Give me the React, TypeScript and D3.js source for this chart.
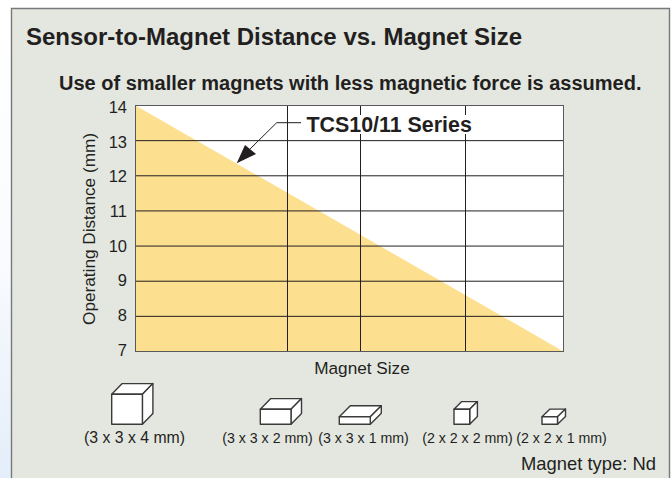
import * as d3 from 'd3'

const yTicks = [7, 8, 9, 10, 11, 12, 13, 14]
// magnet size axis has no numbers, grid lines sit between the magnets
const sizeDomain = [0, 428]
const gridSizes = [152, 225, 330]
const seriesSizes = [0, 428]
const seriesDistance = [14, 7]
const magnetLabels = ['(3 x 3 x 4 mm)', '(3 x 3 x 2 mm)', '(3 x 3 x 1 mm)', '(2 x 2 x 2 mm)', '(2 x 2 x 1 mm)']
const magnetCentres = [134.5, 267.5, 363.5, 467.5, 561.5]
const magnetFontSizes = [15.8, 14.2, 14.2, 14.2, 14.2]
// front width, front height, depth in x, depth in y
const magnetShapes = [
  [30.7, 30, 10.5, 10.7],
  [30.7, 15, 10.5, 10.7],
  [31, 7.5, 11, 11],
  [15.7, 15, 7.7, 7.7],
  [15.5, 7.5, 8, 7.7],
]
const magnetFrontX = [111.7, 260.3, 339.3, 454, 542]
const magnetBottom = 424.3

const plotLeft = 135.5
const plotRight = 563.5
const plotTop = 105.5
const plotBottom = 351.5

export default function App() {
  const x = d3.scaleLinear().domain(sizeDomain).range([plotLeft, plotRight])
  const y = d3.scaleLinear().domain([7, 14]).range([plotBottom, plotTop])
  // tick labels run on a slightly tighter spacing than the grid
  const labelY = d3.scaleLinear().domain([7, 14]).range([355.7, 113])

  const area = d3.area<number>()
    .x(d => x(d))
    .y0(plotBottom)
    .y1((_, i) => y(seriesDistance[i]))

  const font = '"Liberation Sans", Arial, Helvetica, sans-serif'
  const ink = '#231f20'

  return (
    <svg width={672} height={478} viewBox="0 0 672 478"
      style={{ position: 'absolute', left: 0, top: 0, display: 'block' }} fontFamily={font}>
      <defs>
        <linearGradient id="page" x1="0" x2="0" y1="0" y2="1">
          <stop offset="0" stopColor="#ffffff" />
          <stop offset="0.5" stopColor="#fbfcff" />
          <stop offset="1" stopColor="#e4eef9" />
        </linearGradient>
      </defs>
      <rect width={672} height={478} fill="#ffffff" />
      <rect x={0} y={0} width={11} height={478} fill="url(#page)" />
      <rect x={11} y={8} width={658.5} height={470} fill="#e3e7e0" />
      <path d="M11.5 478V8.5H669.5V478" fill="none" stroke="#77787a" strokeWidth={1.4} />

      <text x={26} y={45} fontSize={24} fontWeight={700} fill={ink}>Sensor-to-Magnet Distance vs. Magnet Size</text>
      <text x={59} y={90} fontSize={20} fontWeight={700} fill={ink}>Use of smaller magnets with less magnetic force is assumed.</text>

      <rect x={plotLeft} y={plotTop} width={plotRight - plotLeft} height={plotBottom - plotTop} fill="#fff" />
      <path d={area(seriesSizes) ?? ''} fill="#fddf90" />
      {yTicks.slice(1, -1).map(t => (
        <line key={t} x1={plotLeft} x2={plotRight} y1={y(t)} y2={y(t)} stroke={ink} strokeWidth={1} />
      ))}
      {gridSizes.map(s => (
        <line key={s} x1={x(s)} x2={x(s)} y1={plotTop} y2={plotBottom} stroke={ink} strokeWidth={1} />
      ))}
      <rect x={plotLeft} y={plotTop} width={plotRight - plotLeft} height={plotBottom - plotTop} fill="none" stroke="#58595b" strokeWidth={1} />

      {yTicks.map(t => (
        <text key={t} x={127} y={labelY(t)} textAnchor="end" fontSize={16.5} fill={ink}>{t}</text>
      ))}
      <text transform="translate(95 229) rotate(-90)" textAnchor="middle" fontSize={17.2} fill={ink}>Operating Distance (mm)</text>
      <text x={362} y={374} textAnchor="middle" fontSize={17.2} fill={ink}>Magnet Size</text>

      <path d="M301 122.7H276.7L249 150" fill="none" stroke={ink} strokeWidth={1} />
      <path d="M236.7 163.3L245 145L256 154Z" fill={ink} />
      {/* white patch breaks the grid lines behind the series label */}
      <rect x={304} y={115} width={170} height={19} fill="#fff" />
      <text x={306.5} y={131.5} fontSize={21.4} fontWeight={700} fill={ink}>TCS10/11 Series</text>

      {magnetShapes.map(([w, h, dx, dy], i) => {
        const x0 = magnetFrontX[i]
        const top = magnetBottom - h
        return (
          <g key={i} fill="#fff" stroke="#3a3a3a" strokeWidth={1.4} strokeLinejoin="round">
            <path d={`M${x0} ${top}l${dx} ${-dy}h${w}l${-dx} ${dy}Z`} />
            <path d={`M${x0 + w} ${top}l${dx} ${-dy}v${h}l${-dx} ${dy}Z`} />
            <rect x={x0} y={top} width={w} height={h} />
          </g>
        )
      })}
      {magnetLabels.map((l, i) => (
        <text key={l} x={magnetCentres[i]} y={443} textAnchor="middle" fontSize={magnetFontSizes[i]} fill={ink}>{l}</text>
      ))}
      <text x={656} y={470} textAnchor="end" fontSize={18.4} fill={ink}>Magnet type: Nd</text>
    </svg>
  )
}
